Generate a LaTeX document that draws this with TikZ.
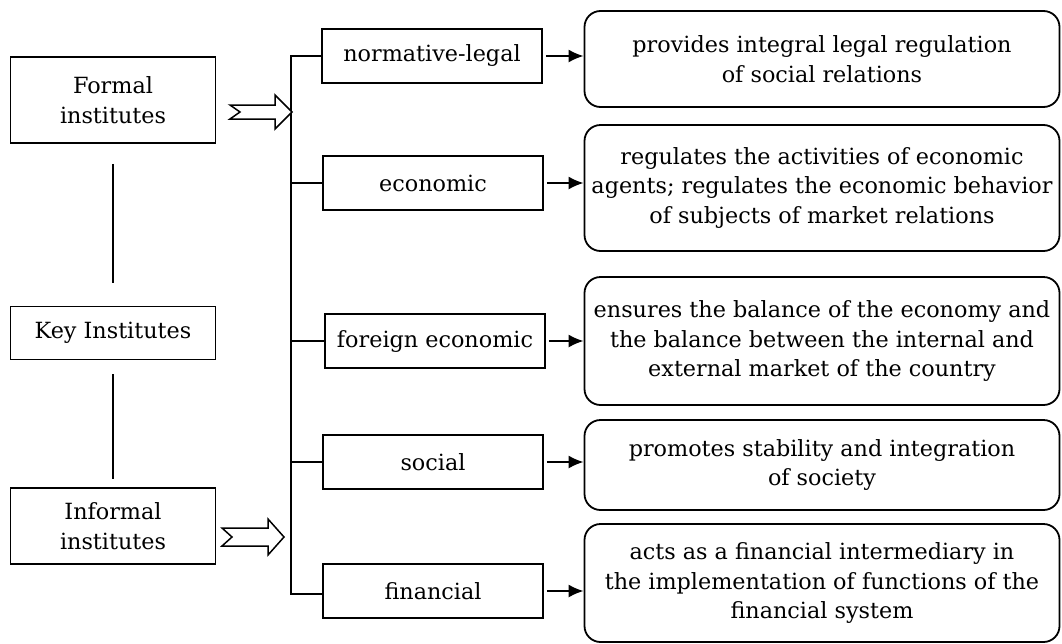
\documentclass[tikz,border=0pt]{standalone}
\usepackage{fontspec}
\setmainfont{DejaVu Serif}
\usetikzlibrary{arrows.meta}

\begin{document}
\begin{tikzpicture}[x=1pt, y=-1pt, line width=1.8pt,
        every node/.style={font=\fontsize{22.3}{29.5}\selectfont},
        inst/.style={draw, rectangle, minimum width=205pt, align=center, inner sep=0pt},
        kind/.style={draw, rectangle, minimum width=220pt, minimum height=54pt, inner sep=0pt},
        role/.style={draw, rectangle, rounded corners=16pt, minimum width=475pt, align=center, inner sep=0pt},
        hollow/.style={draw, fill=white, line width=1.5pt, line join=miter},
        link/.style={-{Latex[length=15pt,width=13pt]}}]
        \useasboundingbox (0,0) rectangle (1062,643);

        \node[inst, minimum height=86pt] (formal) at (113,100) {Formal\\institutes};
        \node[inst, minimum height=53pt] (key) at (113,333) {Key Institutes};
        \node[inst, minimum height=76pt] (informal) at (113,526) {Informal\\institutes};

        \draw ([yshift=-20pt]formal.south) -- ([yshift=23pt]key.north);
        \draw ([yshift=-14pt]key.south) -- ([yshift=8pt]informal.north);

        \node[kind] (legal) at (432,56) {normative-legal};
        \node[kind] (economic) at (433,183) {economic};
        \node[kind] (foreign) at (435,341) {foreign economic};
        \node[kind] (social) at (433,462) {social};
        \node[kind] (financial) at (433,591) {financial};

        \node[role, minimum height=96pt] (d1) at (822,59) {provides integral legal regulation\\of social relations};
        \node[role, minimum height=126pt] (d2) at (822,188) {regulates the activities of economic\\agents; regulates the economic behavior\\of subjects of market relations};
        \node[role, minimum height=128pt] (d3) at (822,341) {ensures the balance of the economy and\\the balance between the internal and\\external market of the country};
        \node[role, minimum height=90pt] (d4) at (822,465) {promotes stability and integration\\of society};
        \node[role, minimum height=118pt] (d5) at (822,583) {acts as a financial intermediary in\\the implementation of functions of the\\financial system};

        \coordinate (bar) at (291,56);
        \draw (legal.west) -- (legal.west -| bar) -- ([yshift=-3pt]financial.west -| bar) -- ([yshift=-3pt]financial.west);
        \foreach \n in {economic, foreign, social}
            \draw (\n.west) -- (\n.west -| bar);

        \draw[link] ([xshift=3pt]legal.east) -- (legal.east -| d1.west);
        \draw[link] ([xshift=3pt]economic.east) -- (economic.east -| d2.west);
        \draw[link] ([xshift=3pt]foreign.east) -- (foreign.east -| d3.west);
        \draw[link] ([xshift=3pt]social.east) -- (social.east -| d4.west);
        \draw[link] ([xshift=3pt]financial.east) -- (financial.east -| d5.west);

        \draw[hollow, shift={(230,112)}] (0,-7) -- (45,-7) -- (45,-17) -- (62,0) -- (45,17) -- (45,7) -- (0,7) -- (10,0) -- cycle;
        \draw[hollow, shift={(222,537)}] (0,-9) -- (46,-9) -- (46,-18) -- (62,0) -- (46,18) -- (46,9) -- (0,9) -- (10,0) -- cycle;
    \end{tikzpicture}
\end{document}
